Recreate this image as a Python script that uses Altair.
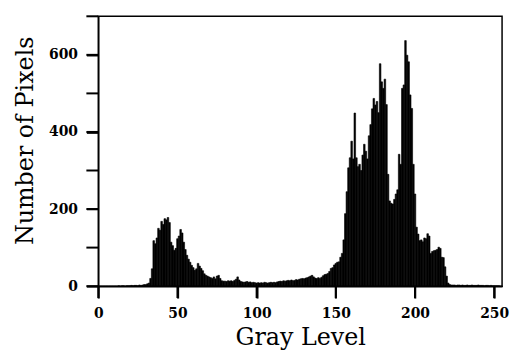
import altair as alt
import pandas as pd

gray_levels = list(range(256))
pixel_counts = [
    0, 0, 0, 0, 0, 0, 0, 0, 0, 0,
    0, 0, 0, 1, 0, 1, 1, 0, 1, 1,
    1, 2, 1, 2, 2, 1, 3, 2, 3, 4,
    4, 6, 8, 20, 45, 118, 110, 125, 150, 145,
    168, 160, 175, 172, 178, 165, 114, 105, 93, 98,
    123, 130, 147, 138, 114, 95, 80, 70, 62, 54,
    48, 41, 45, 59, 52, 46, 40, 32, 28, 26,
    24, 22, 20, 24, 19, 26, 28, 20, 14, 13,
    13, 12, 14, 13, 14, 12, 15, 18, 24, 16,
    12, 11, 10, 11, 12, 10, 11, 9, 10, 9,
    8, 9, 8, 9, 8, 10, 9, 8, 9, 10,
    9, 10, 9, 11, 12, 13, 12, 14, 13, 14,
    15, 14, 16, 14, 15, 17, 16, 18, 19, 20,
    19, 21, 22, 24, 26, 28, 24, 21, 20, 22,
    20, 23, 27, 30, 31, 33, 38, 46, 48, 55,
    59, 62, 63, 75, 85, 120, 188, 245, 307, 333,
    376, 330, 449, 333, 310, 316, 300, 340, 368, 350,
    330, 390, 419, 460, 487, 470, 479, 450, 577, 530,
    513, 537, 471, 290, 221, 215, 213, 225, 239, 250,
    342, 316, 513, 522, 637, 599, 582, 496, 461, 316,
    239, 153, 135, 118, 120, 115, 125, 123, 136, 130,
    85, 90, 92, 93, 95, 101, 98, 75, 74, 50,
    26, 8, 4, 3, 3, 3, 2, 3, 3, 2,
    3, 2, 2, 3, 2, 2, 3, 2, 2, 2,
    3, 2, 2, 2, 1, 2, 2, 1, 2, 1,
    1, 1, 1, 1, 0, 0,
]
x_ticks = [0, 50, 100, 150, 200, 250]
y_ticks = [0, 100, 200, 300, 400, 500, 600, 700]

df = pd.DataFrame({"g": gray_levels, "n": pixel_counts})
xt = pd.DataFrame({"lo": x_ticks})
yt = pd.DataFrame({"n": y_ticks})

font = "DejaVu Serif"
xscale = alt.Scale(domain=[0, 255], nice=False, zero=False)
yscale = alt.Scale(domain=[0, 700], nice=False)

bars = alt.Chart(df).transform_calculate(
    hi="datum.g + 0.5"
).transform_calculate(
    lo="datum.g - 0.5"
).mark_rect(color="black", stroke="black", strokeWidth=0.6).encode(
    x=alt.X("lo:Q", scale=xscale, title="Gray Level",
            axis=alt.Axis(values=x_ticks, grid=False,
                          labelFlush=False, labelPadding=9,
                          titleY=59, titleBaseline="alphabetic")),
    x2="hi:Q",
    y=alt.Y("n:Q", scale=yscale, title="Number of Pixels",
            axis=alt.Axis(values=y_ticks, grid=False,
                          labelFlush=False, labelPadding=9, titleX=-66, titleY=125,
                          titleAngle=-90, titleBaseline="alphabetic", titleAlign="center")),
    y2=alt.datum(0),
)

xtick_marks = alt.Chart(xt).mark_tick(
    color="black", size=12, thickness=2, orient="vertical", opacity=1
).encode(
    x=alt.X("lo:Q", scale=xscale, title="Gray Level"),
    y=alt.value(278),
)
ytick_marks = alt.Chart(yt).mark_tick(
    color="black", size=12, thickness=2, orient="horizontal", opacity=1
).encode(
    y=alt.Y("n:Q", scale=yscale, title="Number of Pixels"),
    x=alt.value(-6),
)

chart = alt.layer(bars, xtick_marks, ytick_marks).properties(
    width=407, height=272,
    autosize=alt.AutoSizeParams(type="none"),
    padding={"left": 91, "top": 7, "right": 9, "bottom": 63},
).configure_view(
    stroke="black", strokeWidth=1.5
).configure_axis(
    ticks=True, tickSize=12, tickWidth=2, tickColor="black",
    domainColor="black", domainWidth=1.5,
    labelFont=font, labelFontSize=14, labelFontWeight="bold", labelColor="black",
    titleFont=font, titleFontSize=24, titleFontWeight="normal", titleColor="black",
)

chart.save("out.html", embed_options={"renderer": "svg", "actions": False})
